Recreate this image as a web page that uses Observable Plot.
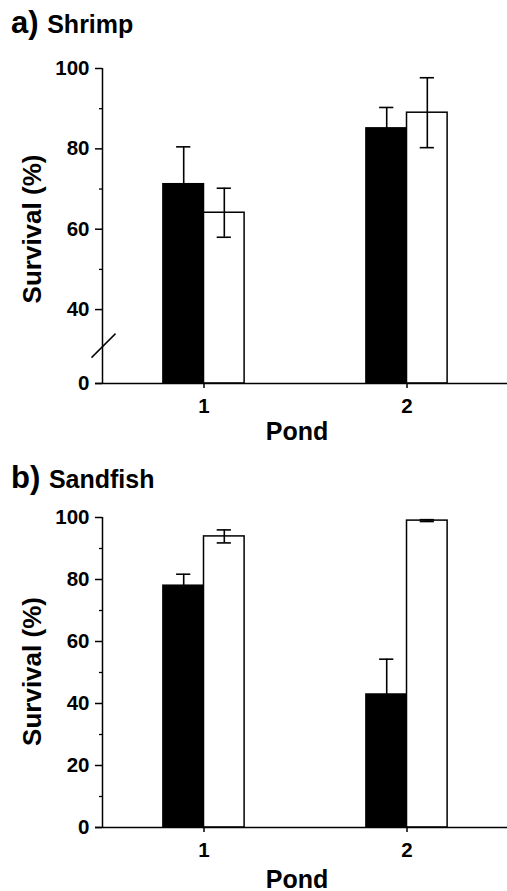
<!DOCTYPE html>
<html>
<head>
<meta charset="utf-8">
<script src="https://cdn.jsdelivr.net/npm/d3@7"></script>
<script src="https://cdn.jsdelivr.net/npm/@observablehq/plot@0.6"></script>
<style>
  html, body { margin: 0; padding: 0; background: #fff; }
  #wrap { position: relative; width: 507px; height: 891px; overflow: hidden; font-family: "Liberation Sans", Arial, Helvetica, sans-serif; color: #000; }
  .title { position: absolute; left: 11px; font-weight: bold; font-size: 31px; line-height: 31px; white-space: nowrap; }
  .title span { font-size: 25px; }
  .panel { position: absolute; left: 0; }
</style>
</head>
<body>
<div id="wrap">
  <div class="title" style="top:7px">a) <span>Shrimp</span></div>
  <div class="panel" id="pa" style="top:40px"></div>
  <div class="title" style="top:462px">b) <span>Sandfish</span></div>
  <div class="panel" id="pb" style="top:495px"></div>
</div>
<script>
// ---- data ----
const ponds = [1, 2];
const groups = ["black", "white"];

const shrimpBlack = [71.2, 85.1];
const shrimpBlackErr = [9.3, 5.2];
const shrimpWhite = [64.1, 89.0];
const shrimpWhiteErr = [6.1, 8.7];

const sandBlack = [78.0, 42.9];
const sandBlackErr = [3.7, 11.4];
const sandWhite = [93.9, 99.0];
const sandWhiteErr = [2.1, 0.3];

const shrimpTicks = [0, 40, 60, 80, 100];
const shrimpMinor = [50, 70, 90];
const sandTicks = [0, 20, 40, 60, 80, 100];
const sandMinor = [10, 30, 50, 70, 90];
const pondTicks = [1, 2];

const yLabel = "Survival (%)";
const xLabel = "Pond";

// ---- helpers ----
const BAR_W = 0.2;   // bar width in pond units
const CAP = 0.035;   // half cap width in pond units
const xDomain = [0.5, 2.495];
const FONT = "Liberation Sans, Arial, Helvetica, sans-serif";

// broken axis for shrimp: values below BREAK are compressed
const BREAK = 40;
const SQUEEZE = 0.46;
const breakTransform = v => (v >= BREAK ? v : BREAK - (BREAK - v) * SQUEEZE);

function rowsFor(black, blackErr, white, whiteErr) {
  const rows = [];
  ponds.forEach((p, i) => {
    rows.push({pond: p, group: groups[0], value: black[i], err: blackErr[i]});
    rows.push({pond: p, group: groups[1], value: white[i], err: whiteErr[i]});
  });
  rows.forEach(d => {
    d.x1 = d.group === "black" ? d.pond - BAR_W : d.pond;
    d.x2 = d.x1 + BAR_W;
    d.cx = d.x1 + BAR_W / 2;
  });
  return rows;
}

function panel({rows, yScale, height, marginTop, marginBottom, major, minor, brk, pondDy, labelDy}) {
  const marks = [
    Plot.rectY(rows, {x1: "x1", x2: "x2", y1: 0, y2: "value", fill: "group", stroke: "black", strokeWidth: 1.5}),
    Plot.ruleX(rows, {x: "cx", y1: d => d.value - d.err, y2: d => d.value + d.err, stroke: "black", strokeWidth: 1.6}),
    Plot.ruleY(rows, {y: d => d.value + d.err, x1: d => d.cx - CAP, x2: d => d.cx + CAP, stroke: "black", strokeWidth: 1.6}),
    Plot.ruleY(rows, {y: d => d.value - d.err, x1: d => d.cx - CAP, x2: d => d.cx + CAP, stroke: "black", strokeWidth: 1.6}),
    // axis lines
    Plot.ruleX([xDomain[0]], {y1: 0, y2: 100, stroke: "black", strokeWidth: 1.5}),
    Plot.ruleY([0], {x1: xDomain[0] - 7 / 203, x2: xDomain[1] + 0.01, stroke: "black", strokeWidth: 1.5}),
    Plot.axisY(major, {anchor: "left", tickSize: 7, tickPadding: 6, fontSize: 20.5, fontWeight: "bold", label: null, strokeWidth: 1.5, tickFormat: d => String(d)}),
    Plot.axisY(minor, {anchor: "left", tickSize: 3, tickFormat: () => "", label: null, strokeWidth: 1.3}),
    Plot.axisX(pondTicks, {anchor: "bottom", tickSize: 5, tickPadding: 10, fontSize: 20.5, fontWeight: "bold", label: null, strokeWidth: 1.5, tickFormat: d => String(d)}),
    Plot.text([yLabel], {frameAnchor: "left", rotate: -90, dx: -70, dy: labelDy, fontSize: 26, fontWeight: "bold", textAnchor: "middle", lineAnchor: "middle"}),
    Plot.text([xLabel], {frameAnchor: "bottom", dx: -8, dy: pondDy, fontSize: 25, fontWeight: "bold", textAnchor: "middle", lineAnchor: "middle"})
  ];
  if (brk) {
    marks.push(Plot.link([brk], {
      x1: xDomain[0] - 11 / 203, x2: xDomain[0] + 13 / 203,
      y1: d => d.at - d.half, y2: d => d.at + d.half,
      stroke: "black", strokeWidth: 1.5
    }));
  }
  return Plot.plot({
    width: 507,
    height,
    marginLeft: 102,
    marginRight: 0,
    marginTop,
    marginBottom,
    x: {domain: xDomain},
    y: yScale,
    color: {domain: groups, range: ["#000000", "#ffffff"]},
    style: {fontFamily: FONT, background: "transparent", color: "black", overflow: "visible"},
    marks
  });
}

document.getElementById("pa").appendChild(panel({
  rows: rowsFor(shrimpBlack, shrimpBlackErr, shrimpWhite, shrimpWhiteErr),
  yScale: {transform: breakTransform, domain: [breakTransform(0), 100]},
  height: 410, marginTop: 28, marginBottom: 67,
  major: shrimpTicks, minor: shrimpMinor,
  brk: {at: 20.5, half: 6.5},
  pondDy: 48, labelDy: 3
}));

document.getElementById("pb").appendChild(panel({
  rows: rowsFor(sandBlack, sandBlackErr, sandWhite, sandWhiteErr),
  yScale: {domain: [0, 100]},
  height: 396, marginTop: 22, marginBottom: 64,
  major: sandTicks, minor: sandMinor,
  brk: null,
  pondDy: 52, labelDy: -1
}));
</script>
</body>
</html>
